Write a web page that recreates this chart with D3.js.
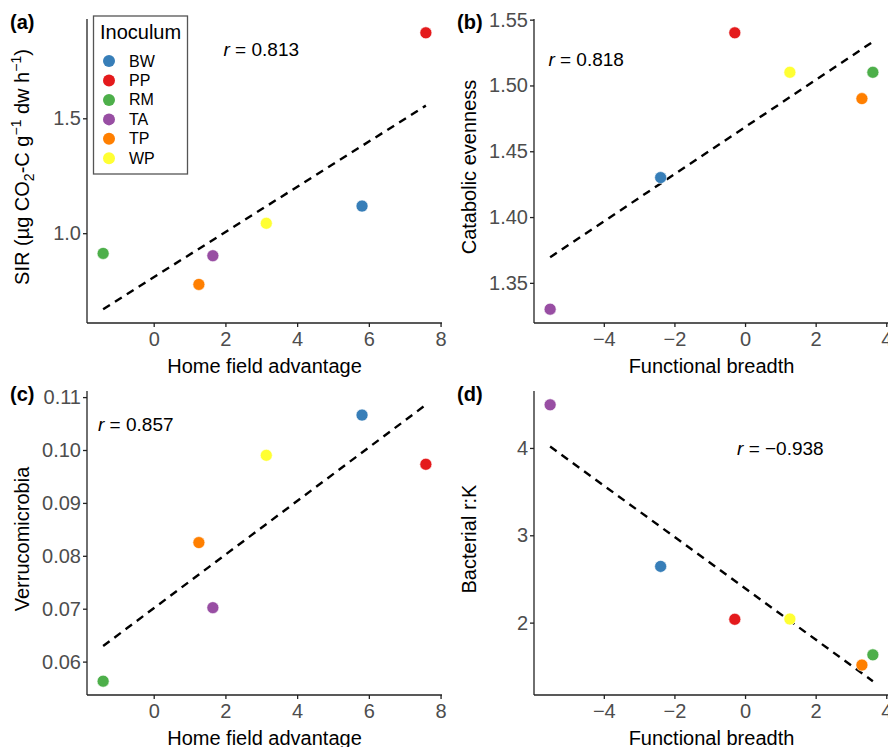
<!doctype html>
<html lang="en">
<head>
    <meta charset="UTF-8">
    <title>Inoculum scatter panels</title>
    <style>
        body { margin: 0; background: #fff; }
        svg { display: block; font-family: "Liberation Sans", Arial, sans-serif; }
        .axis path, .axis line { stroke: #222; stroke-width: 1.3; }
        .axis text { fill: #4d4d4d; font-size: 20px; }
    </style>
</head>
<body>
    <svg id="chart" width="888" height="747"></svg>
    <script src="https://d3js.org/d3.v7.min.js"></script>
    <script>
        // inoculum sources and their colours
        const inocula = ["BW", "PP", "RM", "TA", "TP", "WP"];
        const inoculumColours = ["#377EB8", "#E41A1C", "#4DAF4A", "#984EA3", "#FF7F00", "#FFFF33"];

        // x variables, same order as inocula
        const homeField = [5.81, 7.59, -1.41, 1.65, 1.26, 3.14];
        const functionalBreadth = [-2.39, -0.29, 3.62, -5.52, 3.31, 1.27];

        // y variables
        const sir = [1.118, 1.872, 0.912, 0.902, 0.777, 1.043];
        const catabolicEvenness = [1.43, 1.54, 1.51, 1.33, 1.49, 1.51];
        const verrucomicrobia = [0.1066, 0.0973, 0.0563, 0.0702, 0.0825, 0.0990];
        const bacterialRK = [2.644, 2.038, 1.631, 4.494, 1.514, 2.041];

        // tick values
        const homeFieldTicks = [0, 2, 4, 6, 8];
        const breadthTicks = [-4, -2, 0, 2, 4];
        const sirTicks = [1.0, 1.5];
        const evennessTicks = [1.35, 1.40, 1.45, 1.50, 1.55];
        const verrucoTicks = [0.06, 0.07, 0.08, 0.09, 0.10, 0.11];
        const rkTicks = [2, 3, 4];

        // correlation labels: [text, x, y in data units]
        const rLabels = [
            ["0.813", 3, 1.80],
            ["0.818", -4.5, 1.52],
            ["0.857", -0.5, 0.105],
            ["\u22120.938", 1, 4.0]
        ];

        const plotW = 355, plotH = 304;
        const colour = d3.scaleOrdinal().domain(inocula).range(inoculumColours);

        const svg = d3.select("#chart");

        // least squares fit
        function fit(xs, ys) {
            let mx = d3.mean(xs), my = d3.mean(ys);
            let sxy = d3.sum(xs, (x, i) => (x - mx) * (ys[i] - my));
            let sxx = d3.sum(xs, x => (x - mx) * (x - mx));
            let b = sxy / sxx;
            return x => my + b * (x - mx);
        }

        function expand(ext) {
            let pad = (ext[1] - ext[0]) * 0.05;
            return [ext[0] - pad, ext[1] + pad];
        }

        function drawPanel(p) {
            let g = svg.append("g")
                .attr("transform", `translate(${p.left},${p.top})`);

            let line = fit(p.xs, p.ys);
            let xExt = d3.extent(p.xs);
            let yExt = d3.extent(p.ys.concat([line(xExt[0]), line(xExt[1])]));

            let x = d3.scaleLinear().domain(expand(xExt)).range([0, plotW]);
            let y = d3.scaleLinear().domain(expand(yExt)).range([plotH, 0]);

            g.append("g")
                .attr("class", "axis")
                .attr("transform", `translate(0,${plotH})`)
                .call(d3.axisBottom(x).tickValues(p.xTicks).tickSize(4).tickPadding(5)
                    .tickFormat(d3.format("d")))
                .call(a => a.select(".domain").attr("d", `M0,0H${plotW}`));

            g.append("g")
                .attr("class", "axis")
                .call(d3.axisLeft(y).tickValues(p.yTicks).tickSize(4).tickPadding(2)
                    .tickFormat(d3.format(p.yFormat)))
                .call(a => a.select(".domain").attr("d", `M0,0V${plotH}`));

            // fitted line
            g.append("path")
                .datum(xExt)
                .attr("d", d3.line().x(d => x(d)).y(d => y(line(d))))
                .attr("fill", "none")
                .attr("stroke", "#000")
                .attr("stroke-width", 2.4)
                .attr("stroke-dasharray", "8,6");

            g.selectAll("circle.pt")
                .data(inocula)
                .enter()
                .append("circle")
                .attr("class", "pt")
                .attr("cx", (d, i) => x(p.xs[i]))
                .attr("cy", (d, i) => y(p.ys[i]))
                .attr("r", 6)
                .attr("fill", d => colour(d))
                .attr("stroke", "#fff")
                .attr("stroke-width", 0.6);

            // r annotation
            let rt = g.append("text")
                .attr("x", x(p.r[1]))
                .attr("y", y(p.r[2]))
                .attr("text-anchor", "middle")
                .attr("dominant-baseline", "central")
                .attr("font-size", 19)
                .attr("fill", "#000");
            rt.append("tspan").attr("font-style", "italic").text("r");
            rt.append("tspan").text(" = " + p.r[0]);

            // x title
            g.append("text")
                .attr("x", plotW / 2)
                .attr("y", plotH + 50)
                .attr("text-anchor", "middle")
                .attr("font-size", 20)
                .text(p.xTitle);

            // y title
            let yt = g.append("text")
                .attr("transform", `translate(-58,${plotH / 2 - 4}) rotate(-90)`)
                .attr("text-anchor", "middle")
                .attr("font-size", 20);
            p.yTitle(yt);

            // panel tag
            svg.append("text")
                .attr("x", p.left - 77)
                .attr("y", p.top + 10)
                .attr("font-size", 20)
                .attr("font-weight", "bold")
                .text(p.tag);
        }

        drawPanel({
            left: 87, top: 19, tag: "(a)",
            xs: homeField, ys: sir, xTicks: homeFieldTicks, yTicks: sirTicks, yFormat: ".1f",
            r: rLabels[0], xTitle: "Home field advantage",
            yTitle: t => {
                t.append("tspan").text("SIR  (\u00b5g CO");
                t.append("tspan").attr("font-size", 14).attr("dy", 5).text("2");
                t.append("tspan").attr("dy", -5).text("-C  g");
                t.append("tspan").attr("font-size", 14).attr("dy", -8).text("\u22121");
                t.append("tspan").attr("dy", 8).text(" dw h");
                t.append("tspan").attr("font-size", 14).attr("dy", -8).text("\u22121");
                t.append("tspan").attr("dy", 8).text(")");
            }
        });

        drawPanel({
            left: 534, top: 19, tag: "(b)",
            xs: functionalBreadth, ys: catabolicEvenness, xTicks: breadthTicks, yTicks: evennessTicks, yFormat: ".2f",
            r: rLabels[1], xTitle: "Functional breadth",
            yTitle: t => t.text("Catabolic evenness")
        });

        drawPanel({
            left: 87, top: 391, tag: "(c)",
            xs: homeField, ys: verrucomicrobia, xTicks: homeFieldTicks, yTicks: verrucoTicks, yFormat: ".2f",
            r: rLabels[2], xTitle: "Home field advantage",
            yTitle: t => t.text("Verrucomicrobia")
        });

        drawPanel({
            left: 534, top: 391, tag: "(d)",
            xs: functionalBreadth, ys: bacterialRK, xTicks: breadthTicks, yTicks: rkTicks, yFormat: "d",
            r: rLabels[3], xTitle: "Functional breadth",
            yTitle: t => t.text("Bacterial r:K")
        });

        // legend
        let legend = svg.append("g");
        legend.append("rect")
            .attr("x", 93.5).attr("y", 16)
            .attr("width", 94).attr("height", 158)
            .attr("fill", "#fff")
            .attr("stroke", "#555")
            .attr("stroke-width", 1.3);
        legend.append("text")
            .attr("x", 100).attr("y", 39)
            .attr("font-size", 20)
            .text("Inoculum");

        let ly = d3.scalePoint().domain(inocula).range([61, 158.3]);
        let items = legend.selectAll("g.item")
            .data(inocula)
            .enter()
            .append("g")
            .attr("class", "item")
            .attr("transform", d => `translate(109,${ly(d)})`);
        items.append("circle")
            .attr("r", 6)
            .attr("fill", d => colour(d));
        items.append("text")
            .attr("x", 20)
            .attr("dominant-baseline", "central")
            .attr("font-size", 16)
            .attr("fill", "#000")
            .text(d => d);
    </script>
</body>
</html>
